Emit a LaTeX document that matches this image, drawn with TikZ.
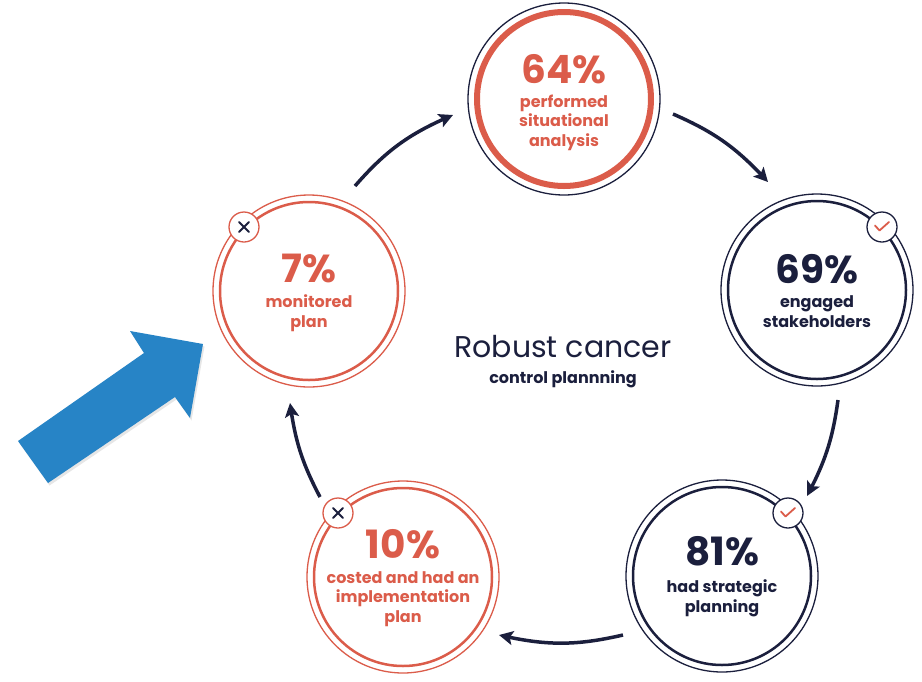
\documentclass[tikz,border=0pt]{standalone}
\usepackage{fontspec}
\setmainfont{Poppins}
\usetikzlibrary{arrows.meta,shadows,bending}
\definecolor{navy}{RGB}{27,31,61}
\definecolor{coral}{RGB}{219,92,74}
\definecolor{arrowblue}{RGB}{39,132,198}
\begin{document}
\begin{tikzpicture}[x=1pt,y=1pt,
  pct/.style={font=\fontsize{39}{39}\selectfont\bfseries, inner sep=0pt, anchor=base},
  lbl/.style={font=\fontsize{16}{19.5}\selectfont\bfseries, align=center, inner sep=0pt, anchor=base},
  outerring/.style={circle, draw, line width=1.3pt, minimum size=192pt, inner sep=0pt},
  innerring/.style={circle, draw, line width=2.5pt, minimum size=178pt, inner sep=0pt},
  badge/.style={circle, draw, fill=white, line width=1.3pt, minimum size=30pt, inner sep=0pt},
  flow/.style={navy, line width=3.5pt, -{Stealth[length=14pt,width=14pt,inset=3pt]}},
  chk/.pic={\draw[coral, line width=1.8pt, line cap=round, line join=round] (-7,1.5) -- (-2.5,-3.5) -- (7,5);},
  crs/.pic={\draw[navy, line width=1.8pt, line cap=round] (-5,-5) -- (5,5) (-5,5) -- (5,-5);}
]
\useasboundingbox (0,0) rectangle (922,-681);

% top circle
\node[outerring, navy] (T) at (564,-99) {};
\node[circle, draw=coral, line width=6pt, minimum size=174pt, inner sep=0pt] (Ti) at (564,-99) {};
\node[pct, coral] (Tn) at (564,-83) {64\%};
\node[lbl, coral] (Tl) at (564,-146) {performed\\situational\\analysis};

% right circle
\node[outerring, navy] (R) at (817,-290) {};
\node[innerring, navy] (Ri) at (817,-290) {};
\node[badge, draw=navy] (Rb) at (882,-227) {};
\pic at (Rb) {chk};
\node[pct, navy] (Rn) at (817,-283) {69\%};
\node[lbl, navy] (Rl) at (817,-327) {engaged\\stakeholders};

% bottom right circle
\node[outerring, navy] (BR) at (722,-576) {};
\node[innerring, navy] (BRi) at (722,-576) {};
\node[badge, draw=navy] (BRb) at (788,-513) {};
\pic at (BRb) {chk};
\node[pct, navy] (BRn) at (722,-565) {81\%};
\node[lbl, navy] (BRl) at (722,-612) {had strategic\\planning};

% bottom left circle
\node[outerring, coral] (BL) at (403,-577) {};
\node[innerring, coral] (BLi) at (403,-577) {};
\node[badge, draw=coral] (BLb) at (338,-513) {};
\pic at (BLb) {crs};
\node[pct, coral] (BLn) at (403,-558) {10\%};
\node[lbl, coral] (BLl) at (403,-622) {costed and had an\\implementation\\plan};

% left circle
\node[outerring, coral] (L) at (309,-291) {};
\node[innerring, coral] (Li) at (309,-291) {};
\node[badge, draw=coral] (Lb) at (244,-227) {};
\pic at (Lb) {crs};
\node[pct, coral] (Ln) at (309,-282) {7\%};
\node[lbl, coral] (Ll) at (309,-327) {monitored\\plan};

% centre text
\node[navy, font=\fontsize{30}{30}\selectfont, inner sep=0pt, anchor=base] (C1) at (563,-357) {Robust cancer};
\node[navy, font=\fontsize{16}{16}\selectfont\bfseries, inner sep=0pt, anchor=base] (C2) at (563,-383) {control plannning};

% flow arrows
\coordinate (a1s) at (355,-186); \coordinate (a1e) at (453,-115);
\coordinate (a2s) at (673,-114); \coordinate (a2e) at (768,-182);
\coordinate (a3s) at (838,-400); \coordinate (a3e) at (807,-496);
\coordinate (a4s) at (623,-635); \coordinate (a4e) at (499,-635);
\coordinate (a5s) at (320,-497); \coordinate (a5e) at (290,-403);
\draw[flow] (a1s) to[bend left=13] (a1e);
\draw[flow] (a2s) to[bend left=12] (a2e);
\draw[flow] (a3s) to[bend left=10] (a3e);
\draw[flow] (a4s) to[bend left=13] (a4e);
\draw[flow] (a5s) to[bend left=10] (a5e);

% blue pointer arrow
\fill[arrowblue, drop shadow={shadow xshift=1.5pt, shadow yshift=-2.5pt, opacity=0.2}]
  (18,-441) -- (48,-483) -- (175,-397) -- (190,-418) -- (203,-344) -- (130,-331) -- (144,-353) -- cycle;
\end{tikzpicture}
\end{document}
